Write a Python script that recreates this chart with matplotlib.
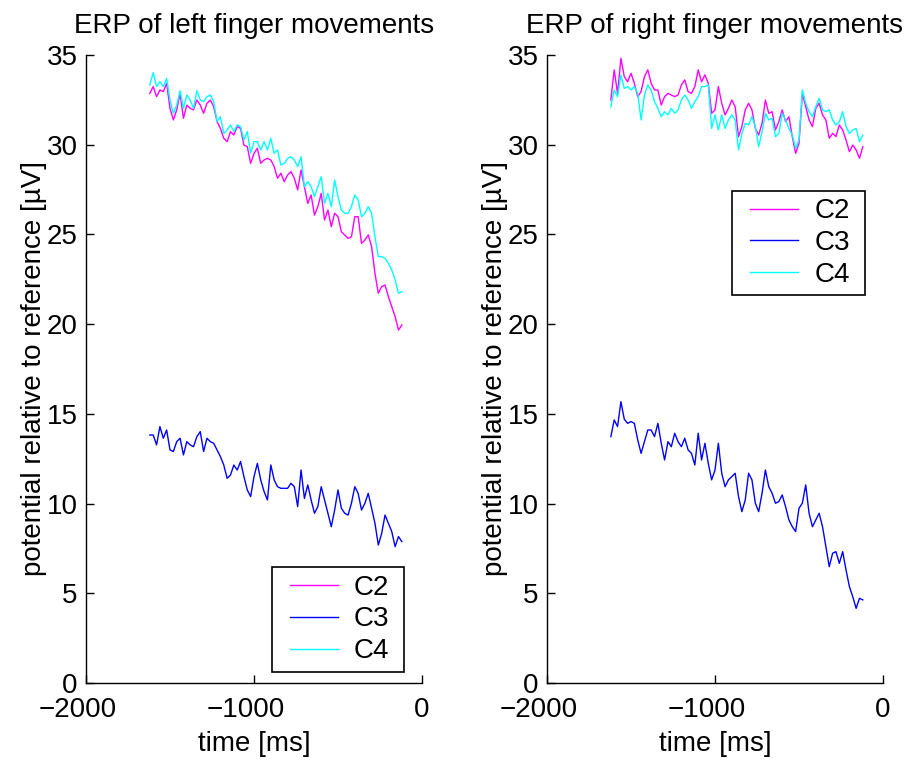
import matplotlib
matplotlib.use("Agg")
import matplotlib.pyplot as plt
from matplotlib.patches import Rectangle
from matplotlib.transforms import ScaledTranslation

plt.rcParams['font.family'] = ['Liberation Sans', 'DejaVu Sans']

# sample times (ms relative to movement onset)
time_ms = [-1620, -1600, -1580, -1560, -1540, -1520, -1500, -1480, -1460, -1440,
           -1420, -1400, -1380, -1360, -1340, -1320, -1300, -1280, -1260, -1240,
           -1220, -1200, -1180, -1160, -1140, -1120, -1100, -1080, -1060, -1040,
           -1020, -1000, -980, -960, -940, -920, -900, -880, -860, -840,
           -820, -800, -780, -760, -740, -720, -700, -680, -660, -640,
           -620, -600, -580, -560, -540, -520, -500, -480, -460, -440,
           -420, -400, -380, -360, -340, -320, -300, -280, -260, -240,
           -220, -200, -180, -160, -140, -120]

# left finger movements
left_c2 = [32.86, 33.24, 32.68, 33.05, 32.96, 33.42, 32.03, 31.38, 31.94, 32.86,
           31.47, 32.21, 32.03, 31.94, 32.49, 32.21, 31.75, 32.31, 32.49, 32.12,
           31.29, 30.91, 30.36, 30.17, 30.73, 30.54, 31.01, 30.91, 29.98, 29.89,
           28.96, 29.52, 29.80, 28.96, 29.15, 29.24, 29.15, 28.78, 28.13, 28.41,
           27.94, 28.31, 28.50, 28.13, 27.48, 28.59, 27.66, 26.73, 27.20, 26.08,
           26.55, 27.29, 25.80, 26.36, 25.43, 26.18, 25.99, 25.15, 24.97, 24.78,
           24.87, 25.99, 25.99, 24.50, 24.69, 24.97, 24.32, 22.83, 21.72, 22.09,
           22.18, 21.53, 20.97, 20.42, 19.67, 19.95]
left_c3 = [13.82, 13.82, 13.27, 14.29, 13.64, 14.10, 12.99, 12.90, 13.45, 13.64,
           12.71, 13.45, 13.27, 13.17, 13.73, 14.01, 12.90, 13.64, 13.45, 13.36,
           12.99, 12.62, 12.15, 11.41, 11.59, 12.15, 11.87, 12.34, 11.50, 10.76,
           10.39, 11.50, 12.24, 11.32, 10.67, 10.20, 12.15, 11.32, 10.94, 10.85,
           10.85, 10.85, 11.13, 10.94, 9.83, 11.87, 10.29, 11.04, 10.20, 9.46,
           9.83, 10.94, 10.20, 9.46, 8.71, 9.64, 10.76, 9.74, 9.46, 9.36,
           10.02, 10.94, 10.57, 9.64, 10.02, 10.57, 9.74, 8.90, 7.69, 8.34,
           9.36, 8.90, 8.44, 7.60, 8.16, 7.88]
left_c4 = [33.33, 34.02, 33.24, 33.51, 33.24, 33.70, 32.49, 31.75, 32.21, 33.01,
           32.03, 32.77, 32.49, 32.03, 33.01, 32.49, 32.40, 32.68, 32.77, 32.40,
           31.29, 31.56, 30.63, 30.82, 31.10, 30.73, 31.10, 31.01, 30.26, 30.73,
           29.52, 30.17, 30.17, 29.71, 30.17, 29.71, 30.36, 29.52, 29.71, 28.87,
           28.96, 29.24, 29.33, 29.15, 28.78, 29.33, 27.66, 27.94, 27.66, 27.10,
           27.66, 28.22, 26.73, 27.29, 26.55, 28.03, 27.10, 26.36, 26.18, 26.18,
           26.55, 27.20, 26.92, 25.99, 26.18, 26.55, 26.18, 24.87, 23.76, 23.76,
           23.67, 23.39, 23.02, 22.46, 21.72, 21.81]

# right finger movements
right_c2 = [32.49, 34.17, 32.86, 34.82, 33.79, 33.51, 33.98, 33.42, 32.68, 32.96,
            33.79, 34.17, 33.42, 33.05, 33.05, 32.21, 32.68, 32.86, 32.77, 32.68,
            32.77, 33.33, 33.61, 32.96, 32.86, 33.24, 34.17, 33.51, 33.89, 33.42,
            31.75, 31.94, 33.24, 32.31, 31.66, 32.03, 32.49, 32.12, 30.45, 31.01,
            31.94, 32.31, 31.94, 30.91, 30.54, 31.19, 32.49, 31.75, 31.84, 30.82,
            31.29, 31.94, 31.29, 31.56, 30.45, 29.52, 30.08, 32.86, 32.12, 31.38,
            31.01, 32.03, 32.31, 31.66, 31.38, 30.36, 30.63, 30.45, 31.10, 30.82,
            30.26, 29.61, 29.98, 29.71, 29.24, 29.89]
right_c3 = [13.73, 14.66, 14.29, 15.68, 14.70, 14.47, 14.57, 14.47, 13.55, 12.80,
            13.45, 14.10, 14.10, 13.73, 14.47, 13.36, 12.43, 13.45, 13.17, 13.92,
            13.45, 13.17, 13.64, 12.99, 12.80, 12.15, 13.92, 12.43, 13.36, 12.24,
            11.32, 11.87, 13.36, 11.69, 10.94, 11.32, 11.50, 11.69, 10.39, 9.55,
            10.20, 11.69, 11.32, 10.02, 9.55, 10.57, 11.87, 10.94, 10.57, 10.02,
            10.11, 10.48, 9.83, 9.09, 8.71, 8.44, 9.74, 10.02, 11.04, 9.46,
            8.71, 9.09, 9.46, 8.71, 7.60, 6.48, 7.23, 7.32, 6.67, 7.32,
            6.30, 5.37, 4.81, 4.16, 4.72, 4.63]
right_c4 = [32.12, 33.05, 32.68, 33.89, 33.14, 33.24, 33.05, 33.24, 32.86, 31.38,
            32.77, 33.33, 33.05, 32.40, 32.03, 31.56, 31.84, 31.66, 32.03, 31.75,
            31.94, 32.49, 32.77, 32.49, 32.03, 32.40, 32.68, 33.24, 33.24, 33.33,
            30.91, 31.66, 30.82, 31.66, 30.91, 31.38, 31.66, 31.38, 29.71, 30.63,
            31.19, 31.10, 31.56, 31.01, 29.89, 30.73, 31.75, 31.38, 31.47, 30.45,
            30.63, 31.75, 31.38, 30.91, 30.54, 29.80, 30.26, 33.05, 32.31, 31.84,
            31.56, 32.12, 32.59, 31.94, 31.84, 31.94, 31.38, 31.10, 31.29, 31.84,
            31.01, 30.63, 30.82, 30.91, 30.17, 30.54]

channels = ['C2', 'C3', 'C4']
colors = ['#ff00ff', '#0000ff', '#00ffff']
x_ticks = [-2000, -1000, 0]
y_ticks = [0, 5, 10, 15, 20, 25, 30, 35]

FS = 20

fig = plt.figure(figsize=(9.16, 7.6), dpi=100)
ax_left = fig.add_axes([86 / 916, 77 / 760, 336 / 916, 628 / 760])
ax_right = fig.add_axes([547 / 916, 77 / 760, 336 / 916, 628 / 760])

# legend boxes in axes fractions: (x0, y0, x1, y1)
panels = [
    (ax_left, 'ERP of left finger movements', [left_c2, left_c3, left_c4],
     (0.554, 0.0175, 0.946, 0.185)),
    (ax_right, 'ERP of right finger movements', [right_c2, right_c3, right_c4],
     (0.551, 0.618, 0.946, 0.783)),
]

shift_left = ScaledTranslation(-8 / 100, 0, fig.dpi_scale_trans)

for ax, title, series, (bx0, by0, bx1, by1) in panels:
    for name, col, vals in zip(channels, colors, series):
        ax.plot(time_ms, vals, color=col, lw=1.0, label=name)
    ax.set_xlim(-2000, 0)
    ax.set_ylim(0, 35)
    ax.set_xticks(x_ticks)
    ax.set_yticks(y_ticks)
    for side in ('top', 'right'):
        ax.spines[side].set_visible(False)
    for side in ('left', 'bottom'):
        ax.spines[side].set_linewidth(1.0)
    ax.tick_params(direction='in', length=6, width=1.0, labelsize=FS)
    ax.tick_params(axis='x', pad=10)
    ax.tick_params(axis='y', pad=6)
    for lab, val in zip(ax.get_xticklabels(), x_ticks):
        if val < 0:
            lab.set_transform(lab.get_transform() + shift_left)
    ax.set_title(title, fontsize=FS, pad=16)
    ax.set_xlabel('time [ms]', fontsize=FS, labelpad=6)
    ax.set_ylabel('potential relative to reference [µV]', fontsize=FS)
    ax.yaxis.set_label_coords(-0.116, 0.5)

    # legend entries, framed by a rectangle
    ax.legend(fontsize=FS, frameon=False, loc='center',
              bbox_to_anchor=((bx0 + bx1) / 2 + 0.005, (by0 + by1) / 2),
              handlelength=1.73, handletextpad=0.58, labelspacing=0.21,
              borderpad=0.0, borderaxespad=0.0)
    ax.add_patch(Rectangle((bx0, by0), bx1 - bx0, by1 - by0, transform=ax.transAxes,
                           facecolor='none', edgecolor='black', lw=1.2,
                           clip_on=False, zorder=5))

fig.savefig('out.png', dpi=100, facecolor='white')
